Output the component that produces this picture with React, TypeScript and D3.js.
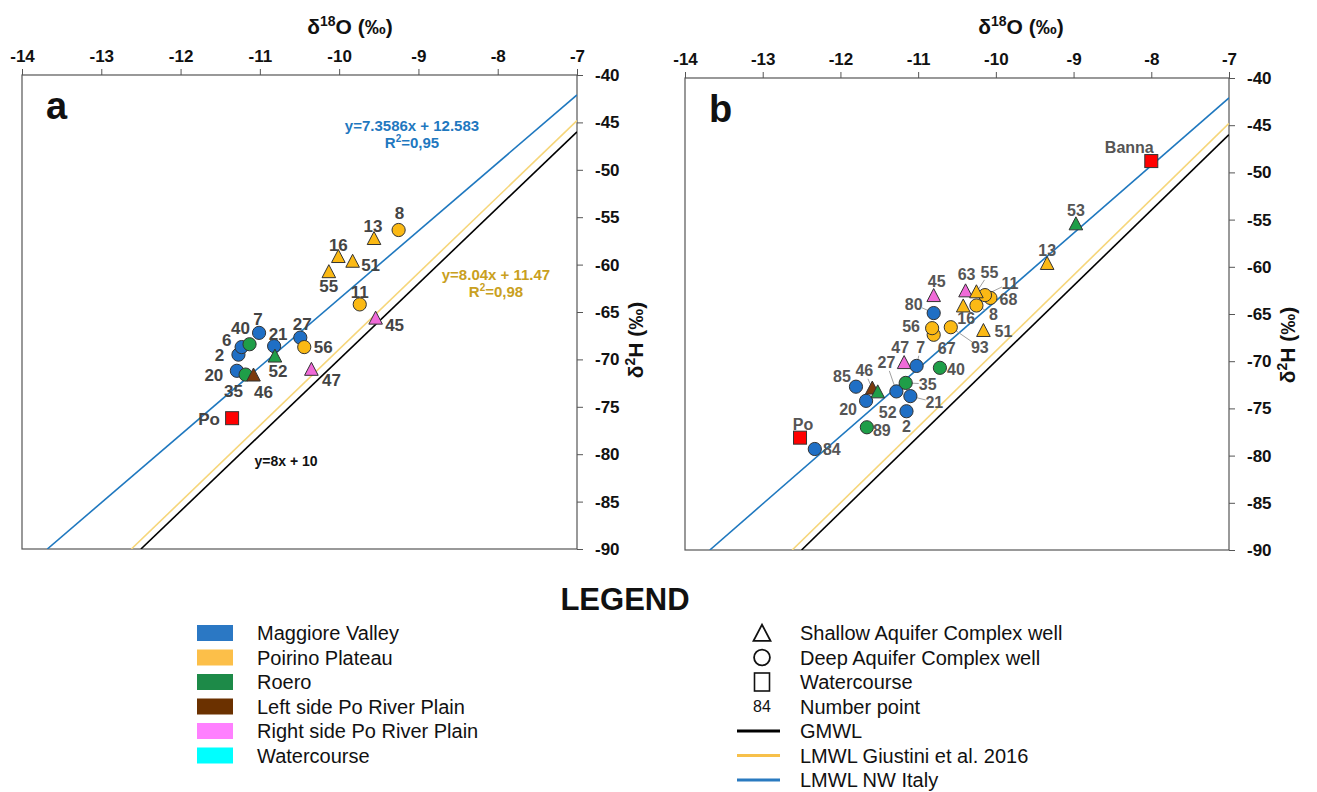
import React, { useEffect, useRef } from 'react';
import * as d3 from 'd3';

// [id, δ18O, δ2H, area, kind]  kind: S = shallow well, D = deep well, W = watercourse
const pointsA: [string, number, number, string, string][] = [
  ['Po', -11.35, -76.2, 'WC', 'W'],
  ['47', -10.35, -71.1, 'RP', 'S'],
  ['45', -9.54, -65.7, 'RP', 'S'],
  ['11', -9.74, -64.2, 'PP', 'D'],
  ['8', -9.25, -56.35, 'PP', 'D'],
  ['13', -9.56, -57.3, 'PP', 'S'],
  ['16', -10.01, -59.2, 'PP', 'S'],
  ['51', -9.83, -59.7, 'PP', 'S'],
  ['55', -10.13, -60.8, 'PP', 'S'],
  ['27', -10.49, -67.7, 'MV', 'D'],
  ['56', -10.44, -68.7, 'PP', 'D'],
  ['21', -10.82, -68.6, 'MV', 'D'],
  ['52', -10.81, -69.7, 'RO', 'S'],
  ['7', -11.01, -67.2, 'MV', 'D'],
  ['2', -11.27, -69.5, 'MV', 'D'],
  ['6', -11.23, -68.7, 'MV', 'D'],
  ['40', -11.13, -68.4, 'RO', 'D'],
  ['20', -11.29, -71.2, 'MV', 'D'],
  ['35', -11.18, -71.6, 'RO', 'D'],
  ['46', -11.08, -71.7, 'LP', 'S'],
];

const pointsB: [string, number, number, string, string][] = [
  ['Po', -12.52, -78.1, 'WC', 'W'],
  ['84', -12.33, -79.3, 'MV', 'D'],
  ['89', -11.66, -77.0, 'RO', 'D'],
  ['85', -11.8, -72.7, 'MV', 'D'],
  ['20', -11.67, -74.2, 'MV', 'D'],
  ['46', -11.59, -72.9, 'LP', 'S'],
  ['52', -11.52, -73.3, 'RO', 'S'],
  ['27', -11.28, -73.2, 'MV', 'D'],
  ['2', -11.15, -75.3, 'MV', 'D'],
  ['21', -11.1, -73.7, 'MV', 'D'],
  ['35', -11.16, -72.3, 'RO', 'D'],
  ['47', -11.18, -70.2, 'RP', 'S'],
  ['7', -11.02, -70.5, 'MV', 'D'],
  ['40', -10.72, -70.7, 'RO', 'D'],
  ['67', -10.8, -67.2, 'PP', 'D'],
  ['56', -10.82, -66.5, 'PP', 'D'],
  ['93', -10.58, -66.4, 'PP', 'D'],
  ['80', -10.8, -64.9, 'MV', 'D'],
  ['45', -10.8, -63.1, 'RP', 'S'],
  ['8', -10.25, -64.1, 'PP', 'D'],
  ['68', -10.07, -63.3, 'PP', 'D'],
  ['11', -10.14, -63.0, 'PP', 'D'],
  ['16', -10.42, -64.2, 'PP', 'S'],
  ['51', -10.16, -66.8, 'PP', 'S'],
  ['63', -10.39, -62.6, 'RP', 'S'],
  ['55', -10.25, -62.7, 'PP', 'S'],
  ['13', -9.34, -59.7, 'PP', 'S'],
  ['53', -8.97, -55.5, 'RO', 'S'],
  ['Banna', -8.0, -48.8, 'WC', 'W'],
];

// meteoric water lines: y = slope * x + intercept
const lineNames = ['GMWL', 'LMWL Giustini et al. 2016', 'LMWL NW Italy'];
const lineSlopes = [8, 8.04, 7.17];
const lineIntercepts = [10, 11.47, 8.09];

const xTicks = [-14, -13, -12, -11, -10, -9, -8, -7];
const yTicks = [-40, -45, -50, -55, -60, -65, -70, -75, -80, -85, -90];

const areaNames = ['Maggiore Valley', 'Poirino Plateau', 'Roero', 'Left side Po River Plain', 'Right side Po River Plain', 'Watercourse'];
const kindNames = ['Shallow Aquifer Complex well', 'Deep Aquifer Complex well', 'Watercourse', 'Number point'];

// styling
const areaColor: Record<string, string> = {
  MV: '#1f6fc5', PP: '#fbb914', RO: '#1f9e48', LP: '#7b3a0c', RP: '#f06ad8', WC: '#ff0000',
};
const swatchColors = ['#2b78c4', '#fcbf49', '#1d8a48', '#6b3100', '#ff80ff', '#00ffff'];
const lineColors = ['#000000', '#f6d67a', '#1f78bf'];
const legendLineColors = ['#000000', '#f7c04a', '#2a7ac0'];

// label offsets (px from marker centre)
const labelA: Record<string, [number, number]> = {
  Po: [-23, 1], '47': [20, 10], '45': [19, 6], '11': [0, -13], '8': [1, -17], '13': [-1, -13],
  '16': [0, -12], '51': [18, 3], '55': [0, 14], '27': [2, -14], '56': [19, 0], '21': [4, -12],
  '52': [3, 14], '7': [-1, -14], '6': [-15, -7], '2': [-19, 0], '40': [-9, -16], '20': [-23, 4],
  '35': [-12, 16], '46': [10, 16],
};
const labelB: Record<string, [number, number]> = {
  Po: [3, -13], '84': [17, 0], '89': [15, 3], '85': [-14, -10], '20': [-18, 8], '46': [-8, -18],
  '52': [10, 20], '27': [-10, -29], '2': [0, 15], '21': [24, 6], '35': [22, 1], '47': [-4, -16],
  '7': [4, -19], '40': [16, 1], '67': [13, 13], '56': [-21, -2], '93': [29, 20], '80': [-20, -9],
  '45': [3, -15], '16': [3, 12], '8': [17, 9], '51': [20, 0], '63': [1, -17], '55': [13, -20],
  '11': [25, -12], '68': [18, 1], '13': [0, -14], '53': [0, -14], Banna: [-22, -14],
};
const leadersB = ['55', '11', '8', '80', '93', '7', '27', '35', '21', '2', '46'];

const FONT = "Arial, 'Liberation Sans', sans-serif";

const App = () => {
  const svgRef = useRef<SVGSVGElement>(null);

  useEffect(() => {
    const svg = d3.select(svgRef.current);
    svg.selectAll('*').remove();
    svg.append('rect').attr('width', 1317).attr('height', 792).attr('fill', '#fff');

    const marker = (g: any, kind: string, x: number, y: number, fill: string, stroke: string, s = 1) => {
      if (kind === 'D') {
        g.append('circle').attr('cx', x).attr('cy', y).attr('r', 6.6 * s)
          .attr('fill', fill).attr('stroke', stroke).attr('stroke-width', 1);
      } else if (kind === 'S') {
        g.append('path').attr('d', `M${x},${y - 7.5 * s}L${x + 6.8 * s},${y + 5.5 * s}L${x - 6.8 * s},${y + 5.5 * s}Z`)
          .attr('fill', fill).attr('stroke', stroke).attr('stroke-width', 1);
      } else {
        g.append('rect').attr('x', x - 6.5).attr('y', y - 6.5).attr('width', 13).attr('height', 13)
          .attr('fill', fill).attr('stroke', stroke).attr('stroke-width', 1);
      }
    };

    const drawPanel = (
      left: number, right: number, top: number, bottom: number,
      pts: [string, number, number, string, string][],
      labels: Record<string, [number, number]>, leaders: string[],
      letter: string, titleX: number, yTitleY: number, labelSize: number, labelColor: string,
    ) => {
      const x = d3.scaleLinear().domain([-14, -7]).range([left, right]);
      const y = d3.scaleLinear().domain([-90, -40]).range([bottom, top]);
      const g = svg.append('g').attr('font-family', FONT);

      const clipId = 'clip' + letter;
      g.append('clipPath').attr('id', clipId).append('rect')
        .attr('x', left).attr('y', top).attr('width', right - left).attr('height', bottom - top);

      // axes
      const ax = g.append('g').attr('transform', `translate(0,${top})`)
        .call(d3.axisTop(x).tickValues(xTicks).tickSize(6).tickSizeOuter(0).tickPadding(7).tickFormat(d => String(d)));
      const ay = g.append('g').attr('transform', `translate(${right},0)`)
        .call(d3.axisRight(y).tickValues(yTicks).tickSize(6).tickSizeOuter(0).tickPadding(12).tickFormat(d => String(d)));
      [ax, ay].forEach(a => {
        a.select('.domain').remove();
        a.selectAll('line').attr('stroke', '#555');
        a.selectAll('text').attr('fill', '#111')
          .style('font-family', FONT).style('font-size', '17px').style('font-weight', '700');
      });
      ay.selectAll('text').attr('text-anchor', 'start');

      g.append('rect').attr('x', left).attr('y', top).attr('width', right - left).attr('height', bottom - top)
        .attr('fill', 'none').attr('stroke', '#555').attr('stroke-width', 1.2);

      // titles
      const t = g.append('text').attr('x', titleX).attr('y', 34).attr('text-anchor', 'middle')
        .attr('font-size', 21).attr('font-weight', 'bold').attr('fill', '#111');
      t.append('tspan').text('δ');
      t.append('tspan').attr('font-size', 14).attr('dy', -8).text('18');
      t.append('tspan').attr('dy', 8).text('O (‰)');

      const yt = g.append('text').attr('transform', `translate(${right + 66},${yTitleY}) rotate(-90)`)
        .attr('text-anchor', 'middle').attr('font-size', 21).attr('font-weight', 'bold').attr('fill', '#111');
      yt.append('tspan').text('δ');
      yt.append('tspan').attr('font-size', 14).attr('dy', -8).text('2');
      yt.append('tspan').attr('dy', 8).text('H (‰)');

      g.append('text').attr('x', left + 24).attr('y', top + 44).attr('font-size', 38)
        .attr('font-weight', 'bold').attr('fill', '#111').text(letter);

      // water lines
      const lg = g.append('g').attr('clip-path', `url(#${clipId})`);
      [1, 0, 2].forEach(i => {
        const m = lineSlopes[i], b = lineIntercepts[i];
        const x1 = Math.max(-14, (-90 - b) / m), x2 = Math.min(-7, (-40 - b) / m);
        const seg = [[x1, m * x1 + b], [x2, m * x2 + b]];
        lg.append('path').attr('d', d3.line().x(d => x(d[0])).y(d => y(d[1]))(seg as any) as string)
          .attr('stroke', lineColors[i]).attr('stroke-width', 1.6).attr('fill', 'none');
      });

      // leaders
      pts.forEach(p => {
        if (!leaders.includes(p[0])) return;
        const [dx, dy] = labels[p[0]];
        const len = Math.hypot(dx, dy);
        const k = Math.max(0, (len - 9) / len);
        g.append('line').attr('x1', x(p[1])).attr('y1', y(p[2]))
          .attr('x2', x(p[1]) + dx * k).attr('y2', y(p[2]) + dy * k)
          .attr('stroke', '#a0a0a0').attr('stroke-width', 1);
      });

      // markers
      pts.forEach(p => marker(g, p[4], x(p[1]), y(p[2]), areaColor[p[3]], '#333'));

      // labels
      pts.forEach(p => {
        const [dx, dy] = labels[p[0]] || [0, -14];
        g.append('text').attr('x', x(p[1]) + dx).attr('y', y(p[2]) + dy).attr('dy', '0.36em')
          .attr('text-anchor', 'middle').attr('font-size', labelSize).attr('font-weight', 'bold')
          .attr('fill', labelColor).text(p[0]);
      });

      return { x, y, g };
    };

    const A = drawPanel(22, 577, 75, 549, pointsA, labelA, [], 'a', 350, 340, 17, '#444');
    drawPanel(685, 1229, 78, 550, pointsB, labelB, leadersB, 'b', 1021, 345, 16, '#555');

    // equations in panel a
    const eq = (txt: string, xv: number, yv: number, color: string, r2?: boolean) => {
      const t = A.g.append('text').attr('x', xv).attr('y', yv).attr('text-anchor', 'middle')
        .attr('font-size', 15).attr('font-weight', 'bold').attr('fill', color);
      if (r2) {
        t.append('tspan').text('R');
        t.append('tspan').attr('font-size', 10).attr('dy', -6).text('2');
        t.append('tspan').attr('dy', 6).text(txt);
      } else t.text(txt);
    };
    eq('y=7.3586x + 12.583', 412, 131, '#1f78bf');
    eq('=0,95', 412, 148, '#1f78bf', true);
    eq('y=8.04x + 11.47', 496, 280, '#c9a020');
    eq('=0,98', 496, 297, '#c9a020', true);
    A.g.append('text').attr('x', 286).attr('y', 466).attr('text-anchor', 'middle')
      .attr('font-size', 14).attr('font-weight', 'bold').attr('fill', '#111').text('y=8x + 10');

    // legend
    const L = svg.append('g').attr('font-family', FONT);
    L.append('text').attr('x', 625).attr('y', 610).attr('text-anchor', 'middle')
      .attr('font-size', 31).attr('font-weight', 'bold').attr('fill', '#111').text('LEGEND');
    const rowY = (i: number) => 633 + i * 24.5;
    areaNames.forEach((n, i) => {
      L.append('rect').attr('x', 197).attr('y', rowY(i) - 8).attr('width', 36).attr('height', 16)
        .attr('fill', swatchColors[i]);
      L.append('text').attr('x', 257).attr('y', rowY(i)).attr('dy', '0.36em')
        .attr('font-size', 20).attr('fill', '#111').text(n);
    });
    const legendRight = [...kindNames, ...lineNames];
    legendRight.forEach((n, i) => {
      const cy = rowY(i);
      const cx = 762;
      if (i === 0) marker(L, 'S', cx, cy + 1, 'none', '#111', 1.25);
      else if (i === 1) marker(L, 'D', cx, cy, 'none', '#111', 1.2);
      else if (i === 2) L.append('rect').attr('x', cx - 7.5).attr('y', cy - 9).attr('width', 15).attr('height', 18)
        .attr('fill', 'none').attr('stroke', '#111').attr('stroke-width', 1.6);
      else if (i === 3) L.append('text').attr('x', cx).attr('y', cy).attr('dy', '0.36em')
        .attr('text-anchor', 'middle').attr('font-size', 16).attr('fill', '#111').text('84');
      else L.append('line').attr('x1', 737).attr('x2', 780).attr('y1', cy).attr('y2', cy)
        .attr('stroke', legendLineColors[i - 4]).attr('stroke-width', 3);
      L.append('text').attr('x', 800).attr('y', cy).attr('dy', '0.36em')
        .attr('font-size', 20).attr('fill', '#111').text(n);
    });
    L.selectAll('path,circle').attr('stroke-width', 1.8);
  }, []);

  return (
    <svg ref={svgRef} width={1317} height={792} style={{ position: 'absolute', left: 0, top: 0 }}></svg>
  );
};

export default App;
